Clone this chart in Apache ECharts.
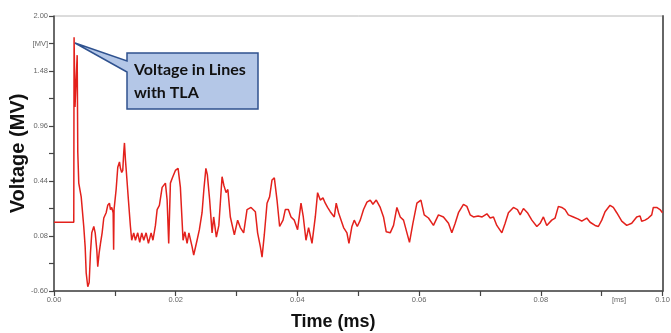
<!DOCTYPE html>
<html>
<head>
<meta charset="utf-8">
<script src="https://cdn.jsdelivr.net/npm/echarts@6/dist/echarts.min.js"></script>
<style>
html,body{margin:0;padding:0;background:#fff;}
#chart{width:671px;height:333px;}
</style>
</head>
<body>
<div id="chart"></div>
<script>
// Time (ms)
var timeMs = [0,0.00325,0.0033,0.00345,0.00381,0.00391,0.00407,0.00447,0.00489,0.00512,0.00529,0.00555,0.00578,0.00599,0.00621,0.00654,0.00677,0.00703,0.00719,0.00742,0.00764,0.00791,0.00818,0.00857,0.00883,0.00911,0.00928,0.00949,0.00972,0.0098,0.00987,0.01021,0.01048,0.01076,0.01092,0.01113,0.0113,0.01146,0.01158,0.01174,0.0119,0.01223,0.01256,0.01277,0.0131,0.01338,0.01376,0.01409,0.01442,0.01475,0.01514,0.01552,0.01596,0.01626,0.01667,0.01695,0.01732,0.01777,0.01831,0.01859,0.01885,0.01913,0.01946,0.01995,0.02039,0.02077,0.02121,0.02151,0.02187,0.02217,0.02269,0.02296,0.02351,0.02389,0.02433,0.02463,0.02496,0.0252,0.02558,0.02598,0.02624,0.02668,0.02709,0.02762,0.02791,0.02828,0.02857,0.02898,0.02964,0.03018,0.03062,0.03117,0.03172,0.03238,0.03309,0.03346,0.03391,0.03419,0.03456,0.03501,0.03543,0.03583,0.03621,0.03665,0.03708,0.03764,0.03801,0.03851,0.03895,0.03949,0.04003,0.04059,0.04097,0.04141,0.04184,0.0424,0.04294,0.04332,0.04376,0.0442,0.04458,0.04496,0.0454,0.04606,0.04638,0.04676,0.04759,0.04814,0.04847,0.04896,0.04934,0.04984,0.05033,0.05087,0.05143,0.05197,0.05241,0.05296,0.05361,0.05415,0.0546,0.05525,0.0558,0.05635,0.0569,0.05744,0.058,0.05842,0.05898,0.05964,0.0603,0.06084,0.06154,0.06236,0.06318,0.064,0.06483,0.06538,0.06593,0.06647,0.06729,0.06785,0.06839,0.06893,0.06971,0.07036,0.07114,0.07168,0.07222,0.07277,0.0736,0.07414,0.07468,0.0755,0.07616,0.07661,0.07715,0.0778,0.07853,0.07935,0.07989,0.08043,0.08098,0.0818,0.08235,0.08289,0.08345,0.08399,0.08453,0.08535,0.08617,0.08673,0.08755,0.0881,0.08892,0.08946,0.09002,0.09056,0.09138,0.09192,0.09248,0.0933,0.09412,0.09494,0.09576,0.09631,0.09658,0.09713,0.09767,0.09823,0.09849,0.09905,0.09959,0.1];
// Voltage (MV)
var voltageMV = [0.05,0.05,1.80,1.14,1.63,0.71,0.42,0.29,0.01,-0.18,-0.43,-0.56,-0.52,-0.24,-0.05,0.01,-0.05,-0.21,-0.37,-0.24,-0.15,-0.05,0.09,0.14,0.21,0.23,0.17,0.19,0.14,-0.21,0.17,0.36,0.57,0.62,0.56,0.52,0.54,0.71,0.80,0.64,0.52,0.26,0.01,-0.12,-0.05,-0.12,-0.05,-0.14,-0.05,-0.12,-0.05,-0.15,-0.05,-0.12,0.02,0.17,0.21,0.38,0.42,0.26,-0.15,0.42,0.47,0.54,0.56,0.38,-0.12,-0.04,-0.15,-0.05,-0.18,-0.26,-0.12,-0.02,0.14,0.36,0.56,0.50,0.26,-0.05,0.10,-0.09,0.02,0.48,0.40,0.33,0.36,0.10,-0.07,0.07,0.00,-0.05,0.17,0.19,0.15,-0.05,-0.18,-0.28,-0.07,0.23,0.29,0.45,0.47,0.26,0.01,0.07,0.17,0.17,0.10,0.07,-0.02,0.23,0.10,-0.12,0.00,-0.15,0.10,0.33,0.26,0.28,0.23,0.19,0.15,0.10,0.23,0.14,0.00,-0.05,-0.15,0.01,0.07,0.01,0.07,0.17,0.24,0.26,0.22,0.26,0.19,0.10,-0.04,-0.05,0.02,0.19,0.10,0.07,-0.05,-0.14,0.04,0.23,0.26,0.12,0.09,0.02,0.12,0.10,0.04,-0.05,0.04,0.14,0.22,0.20,0.12,0.10,0.11,0.10,0.13,0.09,0.10,0.02,-0.05,0.04,0.14,0.19,0.17,0.12,0.18,0.14,0.07,0.01,0.04,0.10,0.02,0.07,0.09,0.20,0.19,0.17,0.12,0.10,0.08,0.06,0.09,0.05,0.02,0.01,0.07,0.15,0.21,0.19,0.14,0.06,0.02,0.04,0.10,0.11,0.06,0.07,0.09,0.12,0.19,0.19,0.17,0.14];
// Axis tick labels
var xLabelValues = [0, 0.02, 0.04, 0.06, 0.08, 0.10];
var xLabelTexts = ['0.00', '0.02', '0.04', '0.06', '0.08', '0.10'];
var yTickValues = [-0.6, -0.34, -0.08, 0.18, 0.44, 0.70, 0.96, 1.22, 1.48, 1.74, 2.0];
var yLabelValues = [-0.6, -0.08, 0.44, 0.96, 1.48, 1.74, 2.0];
var yLabelTexts = ['-0.60', '0.08', '0.44', '0.96', '1.48', '[MV]', '2.00'];
var calloutText = 'Voltage in Lines\nwith TLA';

function lookup(vals, texts, v) {
  for (var i = 0; i < vals.length; i++) {
    if (Math.abs(vals[i] - v) < 1e-6) return texts[i];
  }
  return '';
}

var seriesData = timeMs.map(function (t, i) { return [t, voltageMV[i]]; });

var chart = echarts.init(document.getElementById('chart'), null, {renderer: 'canvas'});
chart.setOption({
  animation: false,
  backgroundColor: '#fff',
  grid: {left: 54, right: 8.5, top: 16, bottom: 42, show: true, borderColor: '#b8b8b8', borderWidth: 1,
         containLabel: false, outerBoundsMode: 'none'},
  xAxis: {
    type: 'value', min: 0, max: 0.1, interval: 0.01,
    name: 'Time (ms)', nameLocation: 'middle', nameGap: 22, nameMoveOverlap: false,
    nameTextStyle: {fontFamily: 'Liberation Sans', fontWeight: 'bold', fontSize: 18, color: '#111', padding: [0, 50, 0, 0]},
    axisLine: {show: true, onZero: false, lineStyle: {color: '#444', width: 1.5}},
    axisTick: {show: true, inside: false, length: 5, lineStyle: {color: '#444', width: 1.2}},
    axisLabel: {
      customValues: xLabelValues, margin: 5, fontSize: 7.5, color: '#666', fontFamily: 'Liberation Sans',
      formatter: function (v) { return lookup(xLabelValues, xLabelTexts, v); }
    },
    splitLine: {show: false}
  },
  yAxis: [{
    type: 'value', min: -0.6, max: 2.0,
    name: 'Voltage (MV)', nameLocation: 'middle', nameGap: 26, nameMoveOverlap: false,
    nameTextStyle: {fontFamily: 'Liberation Sans', fontWeight: 'bold', fontSize: 20, color: '#111'},
    axisLine: {show: true, onZero: false, lineStyle: {color: '#444', width: 1.5}},
    axisTick: {show: true, customValues: yTickValues, length: 5, lineStyle: {color: '#444', width: 1.2}},
    axisLabel: {
      customValues: yLabelValues, margin: 6, fontSize: 7.5, color: '#666', fontFamily: 'Liberation Sans',
      formatter: function (v) { return lookup(yLabelValues, yLabelTexts, v); }
    },
    splitLine: {show: false}
  }, {
    type: 'value', min: -0.6, max: 2.0, position: 'right',
    axisLine: {show: true, onZero: false, lineStyle: {color: '#666', width: 2}},
    axisTick: {show: false}, axisLabel: {show: false}, splitLine: {show: false}
  }],
  series: [{
    type: 'line', data: seriesData, showSymbol: false, symbol: 'none',
    lineStyle: {color: '#e3211c', width: 1.5}, z: 3
  }],
  graphic: [
    {
      type: 'polygon', z: 10,
      shape: {points: [[127, 53], [258, 53], [258, 109], [127, 109], [127, 72], [75, 43], [127, 61]]},
      style: {fill: '#b4c7e7', stroke: '#2f528f', lineWidth: 1.5}
    },
    {
      type: 'text', z: 11, left: 134, top: 58,
      style: {text: calloutText, font: 'bold 16px Lato', fill: '#111', lineHeight: 23}
    },
    {
      type: 'text', z: 11, left: 612, top: 296,
      style: {text: '[ms]', font: '7.5px "Liberation Sans"', fill: '#666'}
    }
  ]
});
</script>
</body>
</html>
